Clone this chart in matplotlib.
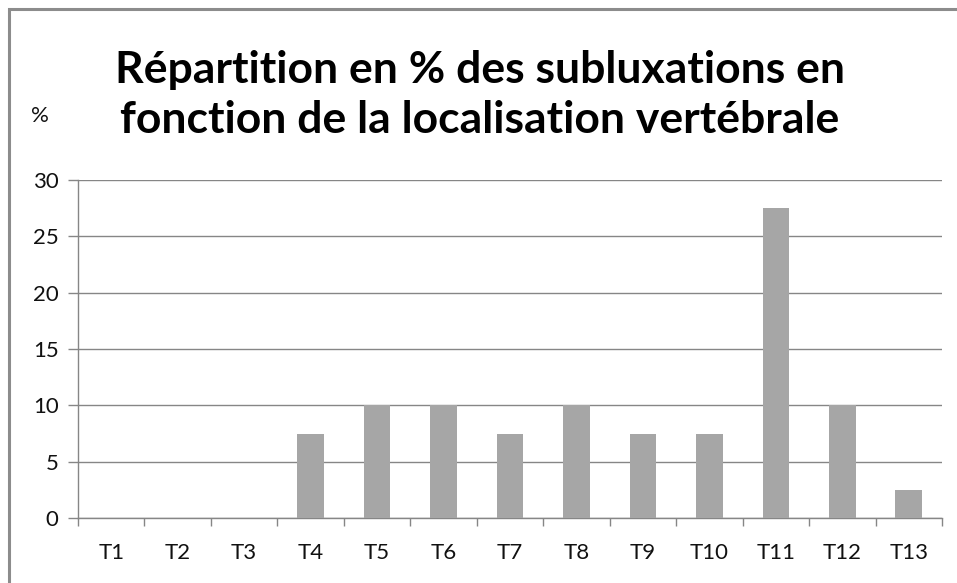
import matplotlib
matplotlib.use("Agg")
import matplotlib.pyplot as plt
from matplotlib.patches import Rectangle
import numpy as np

categories = ["T1", "T2", "T3", "T4", "T5", "T6", "T7", "T8", "T9", "T10", "T11", "T12", "T13"]
values = [0, 0, 0, 7.5, 10, 10, 7.5, 10, 7.5, 7.5, 27.5, 10, 2.5]
yticks = [0, 5, 10, 15, 20, 25, 30]

W, H = 957, 583
plt.rcParams["font.family"] = ["Lato", "DejaVu Sans"]
fig = plt.figure(figsize=(W / 100, H / 100), dpi=100)
fig.patch.set_facecolor("white")
fig.add_artist(Rectangle((9 / W, -0.1), 1.2, (583 - 9.5) / H + 0.1, transform=fig.transFigure,
                         fill=False, edgecolor="#8c8c8c", linewidth=2.2))

ax = fig.add_axes([78 / W, 1 - 518 / H, (942 - 78) / W, (518 - 180) / H])
x = np.arange(len(categories))
ax.bar(x, values, width=0.4, color="#a6a6a6", zorder=3)
ax.set_xlim(-0.5, len(categories) - 0.5)
ax.set_ylim(0, 30)
ax.set_yticks(yticks)
ax.set_yticklabels([str(v) for v in yticks])
ax.set_xticks(x)
ax.set_xticklabels(categories)
ax.set_xticks(np.arange(-0.5, len(categories), 1), minor=True)
ax.tick_params(axis="both", which="major", labelsize=16, labelcolor="#111111")
ax.tick_params(axis="x", which="major", length=0, pad=18)
ax.tick_params(axis="x", which="minor", length=6, color="#868686", width=1)
ax.tick_params(axis="y", length=7, color="#868686", width=1, pad=7)
ax.grid(axis="y", color="#868686", linewidth=1, zorder=0)
for s in ["top", "right"]:
    ax.spines[s].set_visible(False)
for s in ["left", "bottom"]:
    ax.spines[s].set_color("#868686")
    ax.spines[s].set_linewidth(1)

fig.text(480 / W, 1 - 95 / H, "Répartition en % des subluxations en\nfonction de la localisation vertébrale",
         ha="center", va="center", fontsize=32, fontweight="bold",
         linespacing=1.28)
fig.text(40 / W, 1 - 116 / H, "%", ha="center", va="center", fontsize=16, color="#111111")

fig.savefig("out.png", dpi=100)
